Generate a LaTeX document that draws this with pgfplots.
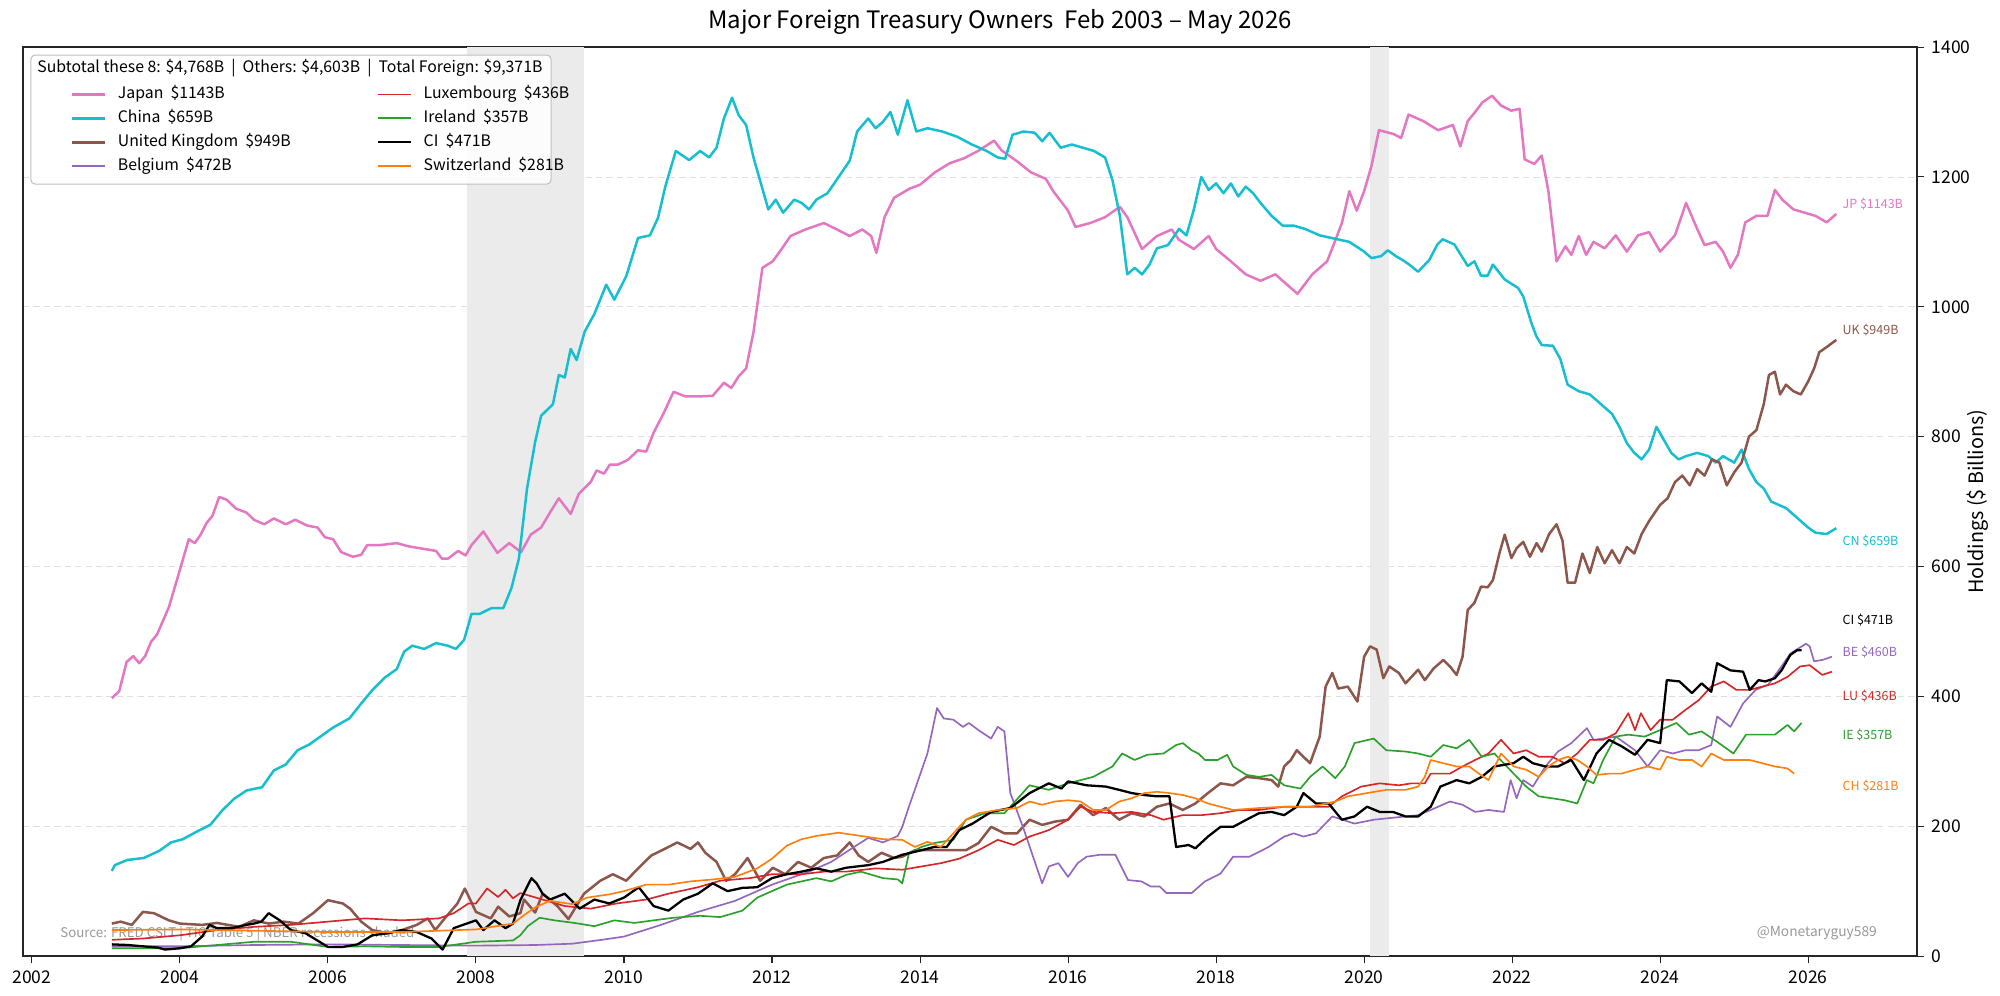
\documentclass[border=0pt]{standalone}
\usepackage{pgfplots}
\pgfplotsset{compat=1.18}
\usepackage{fontspec}
\setmainfont{Noto Sans CJK JP}
\definecolor{cJP}{HTML}{E377C2}
\definecolor{cCN}{HTML}{17BECF}
\definecolor{cUK}{HTML}{8C564B}
\definecolor{cBE}{HTML}{9467BD}
\definecolor{cLU}{HTML}{D62728}
\definecolor{cIE}{HTML}{2CA02C}
\definecolor{cCH}{HTML}{FF7F0E}
\definecolor{rec}{HTML}{EBEBEB}
\begin{document}
\begin{tikzpicture}
\begin{axis}[
  scale only axis, width=909.1pt, height=436.3pt,
  at={(11.04pt,18.7pt)}, anchor=south west,
  xmin=2001.88, xmax=2027.47, ymin=0, ymax=1400,
  xtick={2002,2004,2006,2008,2010,2012,2014,2016,2018,2020,2022,2024,2026},
  xticklabels={2002,2004,2006,2008,2010,2012,2014,2016,2018,2020,2022,2024,2026},
  ytick={0,200,400,600,800,1000,1200,1400},
  yticklabels={0,200,400,600,800,1000,1200,1400},
  xtick pos=left, ytick pos=right, yticklabel pos=right,
  tick align=outside, major tick length=3.5pt,
  tick style={black!85, line width=0.5pt},
  axis line style={black!85, line width=0.6pt},
  ticklabel style={font=\fontsize{8.4}{10}\selectfont},
  ymajorgrids, grid style={dash pattern=on 3pt off 2pt, gray!25, line width=0.4pt},
  ylabel={Holdings (\$ Billions)},
  ylabel style={at={(axis description cs:1.032,0.5)}, anchor=center, font=\fontsize{9.5}{11}\selectfont},
  title={Major Foreign Treasury Owners\ \ Feb 2003 – May 2026},
  title style={at={(axis description cs:0.5,1)}, anchor=center, yshift=6pt, xshift=14.4pt, font=\fontsize{11.5}{13}\selectfont},
  clip mode=individual,
  every axis plot/.append style={line join=round},
  legend columns=4, transpose legend,
  legend image code/.code={\draw[#1] (0pt,0pt) -- (16pt,0pt);},
  legend style={at={(0.0248,0.9597)}, anchor=north west, draw=none, fill=none,
    font=\fontsize{7.6}{9}\selectfont, inner sep=0pt, row sep=1.7pt, column sep=4.6pt,
    nodes={inner sep=1pt, text height=6pt, text depth=1.8pt}},
  legend cell align=left,
]
% recessions
\addplot[fill=rec, draw=none, forget plot] coordinates {(2007.88,0) (2007.88,1400) (2009.46,1400) (2009.46,0)} -- cycle;
\addplot[fill=rec, draw=none, forget plot] coordinates {(2020.08,0) (2020.08,1400) (2020.33,1400) (2020.33,0)} -- cycle;

% source text (behind lines)
\node[anchor=west, text=black!40, font=\fontsize{6.4}{8}\selectfont, inner sep=0pt] at (rel axis cs:0.0195,0.024) {Source: FRED CSLT | TIC Table 5 | NBER recessions shaded};

% Japan
\addplot[cJP, line width=1.2pt] coordinates {
(2003.08,397) (2003.18,408) (2003.28,453) (2003.37,462) (2003.45,451) (2003.53,462) (2003.61,484) (2003.69,495) (2003.85,537) (2003.99,591)
(2004.12,642) (2004.2,636) (2004.28,649) (2004.36,667) (2004.44,678) (2004.53,707) (2004.63,703) (2004.76,689) (2004.9,683) (2005.0,672)
(2005.14,665) (2005.27,674) (2005.43,665) (2005.56,672) (2005.72,663) (2005.86,660) (2005.96,645) (2006.07,642) (2006.18,622) (2006.34,615)
(2006.45,618) (2006.53,633) (2006.71,633) (2006.93,636) (2007.09,631) (2007.3,627) (2007.46,624) (2007.54,612) (2007.62,612) (2007.76,624)
(2007.86,617) (2007.94,633) (2008.1,654) (2008.29,621) (2008.45,636) (2008.61,622) (2008.74,649) (2008.88,660) (2009.01,685) (2009.12,705)
(2009.28,681) (2009.39,712) (2009.55,730) (2009.63,748) (2009.73,743) (2009.81,757) (2009.92,757) (2010.05,764) (2010.19,779) (2010.3,777)
(2010.4,806) (2010.54,837) (2010.67,869) (2010.83,862) (2011.03,862) (2011.2,863) (2011.35,883) (2011.45,875) (2011.55,893) (2011.65,905)
(2011.75,961) (2011.87,1060) (2012.01,1070) (2012.13,1089) (2012.25,1109) (2012.45,1119) (2012.7,1129) (2012.88,1119) (2013.05,1109) (2013.22,1119)
(2013.34,1109) (2013.41,1083) (2013.52,1138) (2013.65,1168) (2013.86,1182) (2014.0,1188) (2014.2,1207) (2014.4,1221) (2014.6,1229) (2014.8,1241)
(2015.0,1256) (2015.1,1241) (2015.3,1225) (2015.5,1207) (2015.7,1197) (2015.8,1178) (2016.0,1148) (2016.1,1123) (2016.3,1129) (2016.5,1138)
(2016.7,1154) (2016.8,1138) (2017.0,1089) (2017.2,1109) (2017.4,1119) (2017.5,1103) (2017.7,1089) (2017.9,1109) (2018.0,1089) (2018.2,1070)
(2018.4,1050) (2018.6,1040) (2018.8,1050) (2019.0,1030) (2019.1,1020) (2019.3,1050) (2019.5,1070) (2019.6,1099) (2019.7,1129) (2019.8,1178)
(2019.9,1148) (2020.0,1178) (2020.1,1217) (2020.2,1272) (2020.4,1266) (2020.5,1260) (2020.6,1296) (2020.8,1286) (2021.0,1272) (2021.2,1280)
(2021.3,1247) (2021.4,1286) (2021.5,1300) (2021.6,1315) (2021.73,1325) (2021.85,1310) (2021.99,1302) (2022.1,1305) (2022.17,1227) (2022.3,1220)
(2022.4,1233) (2022.49,1178) (2022.6,1070) (2022.72,1093) (2022.8,1080) (2022.9,1109) (2023.0,1080) (2023.1,1100) (2023.25,1090) (2023.4,1110)
(2023.55,1085) (2023.7,1110) (2023.85,1115) (2024.0,1085) (2024.2,1110) (2024.35,1160) (2024.5,1120) (2024.6,1095) (2024.75,1100) (2024.85,1085)
(2024.95,1060) (2025.05,1080) (2025.15,1130) (2025.3,1140) (2025.45,1140) (2025.55,1180) (2025.65,1165) (2025.8,1150) (2025.95,1145) (2026.1,1140)
(2026.25,1130) (2026.38,1143)};
\addlegendentry{\makebox[118.5pt][l]{Japan\hspace{0.45em}\$1143B}}

% China
\addplot[cCN, line width=1.2pt] coordinates {
(2003.08,131) (2003.12,140) (2003.29,148) (2003.51,151) (2003.72,162) (2003.88,175) (2004.04,180) (2004.25,193) (2004.41,202) (2004.57,224)
(2004.73,242) (2004.9,255) (2005.11,260) (2005.27,286) (2005.43,295) (2005.59,317) (2005.75,326) (2005.91,339) (2006.07,352) (2006.29,366)
(2006.45,389) (2006.61,411) (2006.77,429) (2006.93,442) (2007.03,469) (2007.14,478) (2007.3,473) (2007.46,482) (2007.62,478) (2007.73,473)
(2007.84,487) (2007.94,527) (2008.05,527) (2008.21,536) (2008.37,536) (2008.48,567) (2008.58,612) (2008.69,720) (2008.8,792) (2008.88,832)
(2009.04,850) (2009.12,895) (2009.2,891) (2009.28,935) (2009.36,918) (2009.47,962) (2009.6,989) (2009.76,1034) (2009.87,1011) (2010.03,1047)
(2010.19,1106) (2010.35,1110) (2010.46,1137) (2010.56,1186) (2010.7,1240) (2010.88,1226) (2011.03,1240) (2011.15,1230) (2011.25,1245) (2011.35,1290)
(2011.46,1322) (2011.55,1295) (2011.65,1280) (2011.75,1230) (2011.85,1190) (2011.95,1150) (2012.05,1165) (2012.15,1145) (2012.3,1165) (2012.4,1160)
(2012.5,1150) (2012.6,1165) (2012.75,1175) (2012.9,1200) (2013.05,1225) (2013.15,1270) (2013.3,1290) (2013.4,1275) (2013.5,1285) (2013.6,1300)
(2013.7,1265) (2013.83,1318) (2013.95,1270) (2014.1,1275) (2014.3,1270) (2014.5,1262) (2014.7,1250) (2014.9,1240) (2015.05,1230) (2015.15,1228)
(2015.25,1265) (2015.4,1270) (2015.55,1268) (2015.65,1255) (2015.75,1268) (2015.9,1245) (2016.05,1250) (2016.2,1245) (2016.35,1240) (2016.5,1230)
(2016.6,1195) (2016.7,1140) (2016.8,1050) (2016.9,1060) (2017.0,1050) (2017.1,1065) (2017.2,1090) (2017.35,1095) (2017.5,1120) (2017.6,1110)
(2017.7,1150) (2017.8,1200) (2017.9,1180) (2018.0,1190) (2018.1,1175) (2018.2,1190) (2018.3,1170) (2018.4,1185) (2018.5,1175) (2018.6,1160)
(2018.75,1140) (2018.9,1125) (2019.05,1125) (2019.2,1120) (2019.4,1110) (2019.6,1105) (2019.8,1100) (2020.0,1085) (2020.1,1075) (2020.23,1078)
(2020.32,1087) (2020.43,1078) (2020.52,1072) (2020.61,1065) (2020.73,1054) (2020.88,1072) (2020.99,1096) (2021.06,1104) (2021.22,1096) (2021.4,1063)
(2021.49,1070) (2021.58,1048) (2021.67,1048) (2021.74,1065) (2021.9,1042) (2022.08,1029) (2022.15,1016) (2022.26,975) (2022.33,954) (2022.4,941)
(2022.55,940) (2022.65,920) (2022.75,880) (2022.9,870) (2023.05,865) (2023.2,850) (2023.35,835) (2023.45,815) (2023.55,790) (2023.65,775)
(2023.75,765) (2023.85,780) (2023.95,815) (2024.05,795) (2024.15,775) (2024.25,765) (2024.35,770) (2024.5,775) (2024.65,770) (2024.75,760)
(2024.85,770) (2025.0,760) (2025.1,780) (2025.2,750) (2025.3,730) (2025.4,720) (2025.5,700) (2025.6,695) (2025.7,690) (2025.8,680)
(2025.9,670) (2026.0,660) (2026.1,652) (2026.25,650) (2026.38,659)};
\addlegendentry{\makebox[118.5pt][l]{China\hspace{0.45em}\$659B}}

% United Kingdom
\addplot[cUK, line width=1.2pt] coordinates {
(2003.08,50) (2003.2,53) (2003.35,48) (2003.5,68) (2003.65,66) (2003.85,55) (2004.0,50) (2004.3,48) (2004.5,51) (2004.8,45)
(2005.0,55) (2005.2,50) (2005.4,53) (2005.6,50) (2005.8,66) (2006.0,86) (2006.2,81) (2006.3,73) (2006.45,53) (2006.6,40)
(2006.8,35) (2007.0,40) (2007.2,48) (2007.35,58) (2007.45,40) (2007.6,61) (2007.75,81) (2007.85,104) (2008.0,68) (2008.2,58)
(2008.3,76) (2008.45,61) (2008.6,66) (2008.65,87) (2008.8,67) (2008.9,96) (2009.1,77) (2009.25,57) (2009.46,96) (2009.68,116)
(2009.85,126) (2010.03,116) (2010.2,136) (2010.37,155) (2010.55,165) (2010.72,175) (2010.9,165) (2011.0,175) (2011.1,159) (2011.25,145)
(2011.38,116) (2011.5,126) (2011.67,151) (2011.84,116) (2012.01,136) (2012.18,126) (2012.35,145) (2012.53,136) (2012.7,151) (2012.88,155)
(2013.05,175) (2013.17,155) (2013.3,145) (2013.48,159) (2013.65,151) (2013.76,153) (2013.93,163) (2014.19,163) (2014.45,163) (2014.62,163)
(2014.79,174) (2014.96,199) (2015.14,189) (2015.31,189) (2015.48,210) (2015.65,202) (2015.82,207) (2016.0,210) (2016.17,233) (2016.34,217)
(2016.51,228) (2016.69,210) (2016.86,220) (2017.03,215) (2017.2,230) (2017.37,235) (2017.55,225) (2017.72,235) (2017.89,251) (2018.06,266)
(2018.23,263) (2018.41,276) (2018.58,274) (2018.75,271) (2018.84,261) (2018.92,292) (2019.01,302) (2019.09,317) (2019.27,297) (2019.4,338)
(2019.48,415) (2019.57,436) (2019.65,412) (2019.78,415) (2019.91,392) (2020.0,461) (2020.08,477) (2020.17,472) (2020.26,428) (2020.34,446)
(2020.47,436) (2020.56,420) (2020.64,430) (2020.73,441) (2020.82,425) (2020.94,443) (2021.07,456) (2021.16,446) (2021.25,433) (2021.33,461)
(2021.4,533) (2021.49,544) (2021.58,569) (2021.67,568) (2021.74,579) (2021.83,621) (2021.9,649) (2021.99,613) (2022.06,628) (2022.15,638)
(2022.24,615) (2022.33,636) (2022.4,623) (2022.5,650) (2022.6,665) (2022.68,640) (2022.75,575) (2022.85,575) (2022.95,620) (2023.05,590)
(2023.15,630) (2023.25,605) (2023.35,625) (2023.45,605) (2023.55,630) (2023.65,620) (2023.75,650) (2023.85,670) (2024.0,695) (2024.1,705)
(2024.2,730) (2024.3,740) (2024.4,725) (2024.5,750) (2024.6,740) (2024.7,765) (2024.8,760) (2024.9,725) (2025.0,745) (2025.1,760)
(2025.2,800) (2025.3,810) (2025.4,850) (2025.47,895) (2025.55,900) (2025.62,865) (2025.7,880) (2025.8,870) (2025.9,865) (2026.0,885)
(2026.08,905) (2026.15,930) (2026.25,938) (2026.38,949)};
\addlegendentry{\makebox[118.5pt][l]{United Kingdom\hspace{0.45em}\$949B}}

% Belgium
\addplot[cBE, line width=0.8pt] coordinates {
(2003.08,15) (2004.0,15) (2005.0,17) (2006.0,18) (2007.0,17) (2008.0,16) (2008.8,17) (2009.3,19) (2009.7,25) (2010.0,30)
(2010.5,48) (2011.0,68) (2011.5,85) (2012.0,110) (2012.5,130) (2012.8,145) (2013.0,160) (2013.3,182) (2013.5,175) (2013.7,185)
(2013.76,199) (2013.85,230) (2014.1,312) (2014.23,382) (2014.32,366) (2014.45,364) (2014.58,353) (2014.66,359) (2014.79,348) (2014.96,335)
(2015.05,353) (2015.14,346) (2015.22,251) (2015.39,199) (2015.65,112) (2015.74,138) (2015.87,143) (2016.0,122) (2016.13,143) (2016.25,153)
(2016.43,156) (2016.64,156) (2016.81,117) (2016.99,115) (2017.12,107) (2017.24,107) (2017.33,97) (2017.55,97) (2017.67,97) (2017.85,115)
(2018.06,127) (2018.23,153) (2018.45,153) (2018.71,168) (2018.92,184) (2019.05,189) (2019.18,184) (2019.35,189) (2019.57,215) (2019.87,204)
(2020.13,210) (2020.3,212) (2020.56,215) (2020.73,217) (2020.9,225) (2021.16,238) (2021.33,233) (2021.5,222) (2021.68,225) (2021.89,222)
(2021.98,271) (2022.06,243) (2022.15,271) (2022.28,261) (2022.45,292) (2022.62,315) (2022.8,328) (2023.01,351) (2023.1,333) (2023.23,335)
(2023.4,338) (2023.66,317) (2023.83,292) (2024.0,317) (2024.17,312) (2024.34,317) (2024.52,317) (2024.69,325) (2024.77,369) (2024.95,353)
(2025.12,389) (2025.29,410) (2025.46,418) (2025.64,446) (2025.76,466) (2025.97,481) (2026.02,477) (2026.08,454) (2026.19,456) (2026.32,461)};
\addlegendentry{\makebox[118.5pt][l]{Belgium\hspace{0.45em}\$472B}}

% Luxembourg
\addplot[cLU, line width=0.8pt] coordinates {
(2003.08,25) (2003.5,27) (2004.0,32) (2004.5,40) (2005.0,45) (2005.5,48) (2006.0,53) (2006.5,58) (2007.0,55) (2007.5,58)
(2007.7,66) (2007.9,81) (2008.0,81) (2008.15,104) (2008.3,91) (2008.4,102) (2008.5,89) (2008.6,97) (2008.9,87) (2009.2,77)
(2009.55,73) (2009.9,81) (2010.3,87) (2010.6,96) (2011.0,106) (2011.3,116) (2011.7,120) (2012.0,126) (2012.4,126) (2012.7,130)
(2013.0,130) (2013.4,135) (2013.76,133) (2014.02,138) (2014.28,143) (2014.53,150) (2014.79,163) (2015.05,179) (2015.27,171) (2015.48,184)
(2015.74,194) (2016.0,210) (2016.17,230) (2016.34,222) (2016.6,220) (2016.86,222) (2017.12,217) (2017.29,210) (2017.55,217) (2017.8,217)
(2018.06,220) (2018.32,225) (2018.58,225) (2018.92,230) (2019.27,230) (2019.52,230) (2019.7,246) (2019.96,261) (2020.21,266) (2020.47,263)
(2020.64,266) (2020.82,266) (2020.9,281) (2021.16,281) (2021.33,292) (2021.5,302) (2021.68,312) (2021.85,333) (2022.02,312) (2022.19,317)
(2022.36,307) (2022.54,307) (2022.71,297) (2022.88,312) (2023.05,333) (2023.23,333) (2023.4,343) (2023.57,374) (2023.66,348) (2023.74,374)
(2023.87,348) (2024.0,364) (2024.17,364) (2024.34,379) (2024.52,394) (2024.69,415) (2024.86,423) (2025.03,410) (2025.21,410) (2025.38,415)
(2025.55,420) (2025.72,430) (2025.89,446) (2026.02,448) (2026.19,433) (2026.32,438)};
\addlegendentry{Luxembourg\hspace{0.45em}\$436B}

% Ireland
\addplot[cIE, line width=0.8pt] coordinates {
(2003.08,12) (2004.0,12) (2004.5,17) (2005.0,22) (2005.5,22) (2006.0,14) (2006.5,15) (2007.0,14) (2007.5,14) (2008.0,22)
(2008.5,24) (2008.6,32) (2008.7,46) (2008.86,59) (2009.06,55) (2009.33,51) (2009.6,46) (2009.87,55) (2010.14,51) (2010.4,55)
(2010.67,59) (2011.03,62) (2011.3,60) (2011.6,70) (2011.8,90) (2012.0,100) (2012.2,110) (2012.4,115) (2012.6,120) (2012.8,115)
(2013.0,125) (2013.2,130) (2013.5,120) (2013.7,118) (2013.76,112) (2013.85,158) (2014.02,168) (2014.19,174) (2014.45,179) (2014.62,210)
(2014.88,220) (2015.14,220) (2015.48,263) (2015.74,256) (2016.0,266) (2016.34,276) (2016.6,292) (2016.73,312) (2016.9,302) (2017.07,310)
(2017.29,312) (2017.46,325) (2017.55,328) (2017.67,317) (2017.76,312) (2017.85,302) (2018.02,302) (2018.15,310) (2018.23,292) (2018.41,279)
(2018.58,276) (2018.75,279) (2018.92,263) (2019.14,258) (2019.27,276) (2019.44,292) (2019.61,274) (2019.74,292) (2019.87,328) (2020.13,335)
(2020.3,317) (2020.56,315) (2020.73,312) (2020.9,307) (2021.07,325) (2021.25,320) (2021.42,333) (2021.59,307) (2021.76,312) (2022.02,281)
(2022.19,261) (2022.36,246) (2022.54,243) (2022.71,240) (2022.88,235) (2023.01,271) (2023.1,266) (2023.23,302) (2023.4,338) (2023.57,341)
(2023.79,338) (2024.0,348) (2024.22,359) (2024.39,341) (2024.56,346) (2024.77,330) (2024.99,312) (2025.16,341) (2025.38,341) (2025.55,341)
(2025.72,356) (2025.81,346) (2025.91,359)};
\addlegendentry{Ireland\hspace{0.45em}\$357B}

% CI
\addplot[black, line width=1.1pt] coordinates {
(2003.08,18) (2003.3,17) (2003.5,15) (2003.7,13) (2003.8,10) (2004.0,12) (2004.15,15) (2004.3,30) (2004.4,48) (2004.5,43)
(2004.7,43) (2004.9,48) (2005.0,50) (2005.1,53) (2005.2,66) (2005.35,55) (2005.5,40) (2005.7,35) (2006.0,14) (2006.2,14)
(2006.4,18) (2006.6,32) (2006.8,35) (2007.0,40) (2007.2,37) (2007.4,27) (2007.55,10) (2007.7,43) (2008.0,55) (2008.1,40)
(2008.25,55) (2008.4,43) (2008.5,50) (2008.6,86) (2008.75,120) (2008.82,112) (2008.9,96) (2009.0,87) (2009.2,96) (2009.4,73)
(2009.6,87) (2009.8,81) (2010.0,90) (2010.2,106) (2010.4,77) (2010.6,70) (2010.8,87) (2011.0,96) (2011.2,112) (2011.4,100)
(2011.6,105) (2011.8,106) (2012.0,120) (2012.2,126) (2012.4,130) (2012.6,135) (2012.8,130) (2013.0,136) (2013.3,140) (2013.5,145)
(2013.76,156) (2014.02,163) (2014.19,168) (2014.36,168) (2014.53,194) (2014.71,204) (2014.96,222) (2015.22,228) (2015.48,251) (2015.74,266)
(2015.91,258) (2016.0,269) (2016.25,263) (2016.51,261) (2016.69,256) (2016.86,251) (2017.03,248) (2017.2,246) (2017.37,246) (2017.46,168)
(2017.63,171) (2017.72,166) (2017.89,184) (2018.06,199) (2018.23,199) (2018.41,210) (2018.58,220) (2018.75,222) (2018.92,217) (2019.09,230)
(2019.18,251) (2019.35,235) (2019.52,235) (2019.7,210) (2019.87,215) (2020.04,230) (2020.21,222) (2020.39,222) (2020.56,215) (2020.73,215)
(2020.9,230) (2021.03,261) (2021.25,271) (2021.42,266) (2021.59,276) (2021.76,292) (2022.02,297) (2022.15,307) (2022.28,297) (2022.45,292)
(2022.62,292) (2022.8,302) (2022.97,271) (2023.14,312) (2023.31,333) (2023.48,323) (2023.66,310) (2023.83,333) (2024.0,328) (2024.09,425)
(2024.26,423) (2024.43,405) (2024.56,420) (2024.69,407) (2024.77,451) (2024.95,440) (2025.12,438) (2025.21,410) (2025.33,425) (2025.42,423)
(2025.55,428) (2025.64,440) (2025.76,464) (2025.85,471) (2025.91,471)};
\addlegendentry{CI\hspace{0.45em}\$471B}

% Switzerland
\addplot[cCH, line width=0.8pt] coordinates {
(2003.08,40) (2004.0,41) (2005.0,39) (2006.0,37) (2007.0,37) (2007.5,39) (2008.0,41) (2008.5,50) (2008.65,63) (2008.8,75)
(2009.0,85) (2009.3,80) (2009.5,90) (2009.8,95) (2010.0,100) (2010.3,110) (2010.6,110) (2010.9,115) (2011.2,118) (2011.5,122)
(2011.8,135) (2012.0,150) (2012.2,170) (2012.4,180) (2012.6,185) (2012.9,190) (2013.2,185) (2013.5,180) (2013.76,179) (2013.93,168)
(2014.1,176) (2014.28,168) (2014.45,189) (2014.62,210) (2014.79,220) (2015.05,225) (2015.31,228) (2015.48,238) (2015.65,233) (2015.82,238)
(2016.0,240) (2016.17,238) (2016.34,225) (2016.51,225) (2016.69,238) (2016.86,243) (2017.03,251) (2017.2,253) (2017.37,251) (2017.55,248)
(2017.72,243) (2017.89,235) (2018.06,230) (2018.23,225) (2018.58,228) (2018.92,230) (2019.27,230) (2019.61,238) (2019.78,246) (2020.04,251)
(2020.3,256) (2020.56,256) (2020.73,261) (2020.82,276) (2020.9,302) (2021.07,297) (2021.25,292) (2021.42,292) (2021.55,281) (2021.68,271)
(2021.85,312) (2022.02,292) (2022.19,287) (2022.36,276) (2022.49,292) (2022.62,302) (2022.75,307) (2022.88,302) (2023.01,292) (2023.14,279)
(2023.31,281) (2023.48,281) (2023.66,287) (2023.83,292) (2024.0,287) (2024.09,307) (2024.26,302) (2024.43,302) (2024.56,292) (2024.69,312)
(2024.86,302) (2025.03,302) (2025.21,302) (2025.38,297) (2025.55,292) (2025.72,289) (2025.81,281)};
\addlegendentry{Switzerland\hspace{0.45em}\$281B}

% end labels
\begin{scope}[every node/.style={anchor=west, font=\fontsize{6}{7}\selectfont, inner sep=0pt}]
\node[text=cJP] at (axis cs:2026.46,1159) {JP \$1143B};
\node[text=cUK] at (axis cs:2026.46,964) {UK \$949B};
\node[text=cCN] at (axis cs:2026.46,639) {CN \$659B};
\node[text=black] at (axis cs:2026.46,518) {CI \$471B};
\node[text=cBE] at (axis cs:2026.46,468) {BE \$460B};
\node[text=cLU] at (axis cs:2026.46,400) {LU \$436B};
\node[text=cIE] at (axis cs:2026.46,341) {IE \$357B};
\node[text=cCH] at (axis cs:2026.46,262) {CH \$281B};
\end{scope}

% watermark
\node[anchor=east, text=black!40, font=\fontsize{6.6}{8}\selectfont, inner sep=0pt] at (rel axis cs:0.979,0.025) {@Monetaryguy589};

% legend frame and header
\draw[black!25, fill=white, fill opacity=0.85, line width=0.5pt, rounded corners=2pt]
  (rel axis cs:0.0042,0.8493) rectangle (rel axis cs:0.2788,0.9912);
\node[anchor=west, font=\fontsize{7.6}{9}\selectfont, inner sep=0pt] at (rel axis cs:0.0074,0.9769)
  {Subtotal these 8: \$4,768B\ \ |\ \ Others: \$4,603B\ \ |\ \ Total Foreign: \$9,371B};
\end{axis}
\pgfresetboundingbox
\path[use as bounding box] (0,0) rectangle (960pt,477.6pt);
\end{tikzpicture}
\end{document}
